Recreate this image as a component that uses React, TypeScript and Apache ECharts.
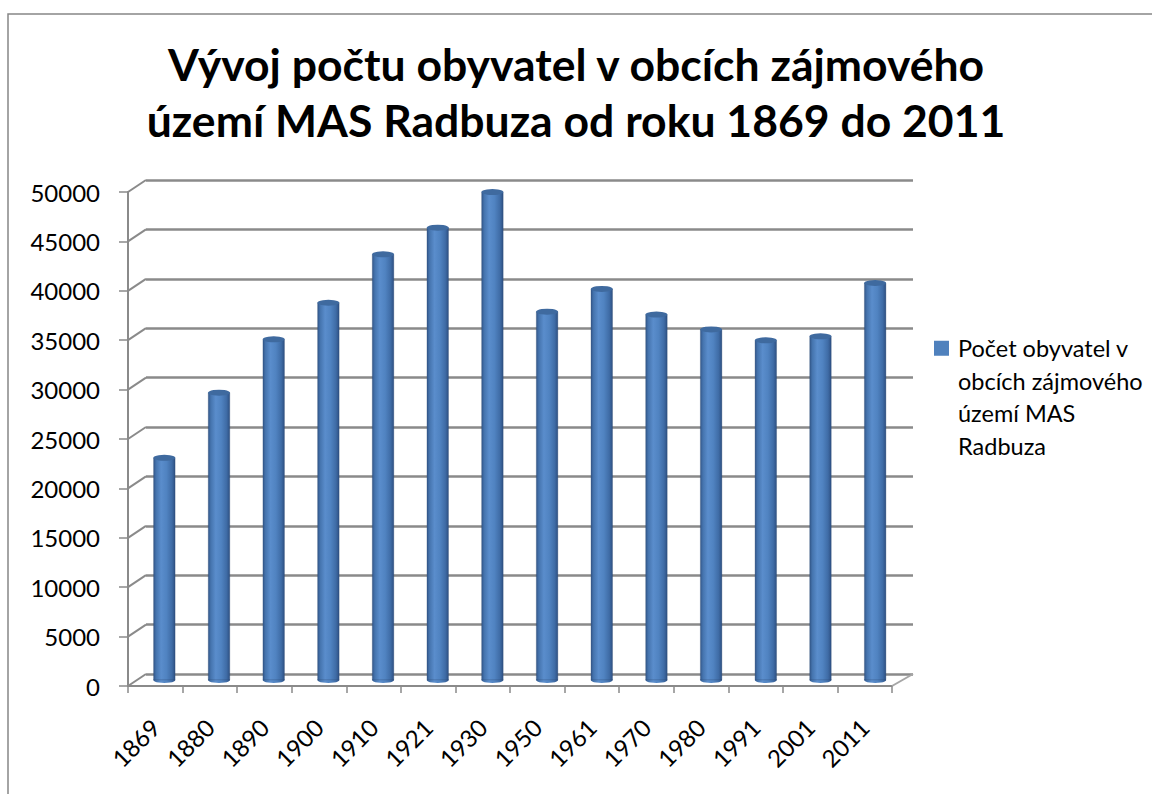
import React, { useEffect, useRef } from 'react';
import * as echarts from 'echarts';

const TITLE_LINES = ['Vývoj počtu obyvatel v obcích zájmového', 'území MAS Radbuza od roku 1869 do 2011'];
const SERIES_NAME = 'Počet obyvatel v obcích zájmového území MAS Radbuza';
const LEGEND_LINES = ['Počet obyvatel v', 'obcích zájmového', 'území MAS', 'Radbuza'];
const years = ['1869', '1880', '1890', '1900', '1910', '1921', '1930', '1950', '1961', '1970', '1980', '1991', '2001', '2011'];
const population = [22500, 29100, 34500, 38200, 43100, 45800, 49400, 37300, 39600, 37000, 35500, 34400, 34800, 40200];
const Y_MIN = 0;
const Y_MAX = 50000;
const Y_STEP = 5000;

const FONT = 'Lato';
const FRONT = { left: 128, top: 192, width: 764, height: 494 };
const BACK = { left: 146, top: 180, width: 767, height: 494 };
const MID = { left: 137, top: 186, width: 765.5, height: 494 };
const GRID_COLOR = '#8a8a8a';
const LEGEND_LINE_H = 32.5;
const LEGEND_BLOCK_H = LEGEND_LINE_H * LEGEND_LINES.length;
// legend icon: a 15px square aligned with the first text line, plus two invisible points to stretch its box
const LEGEND_ICON =
  'path://M0,0h0.01v0.01h-0.01z' +
  `M0,${LEGEND_LINE_H / 2 - 7.5}h15v15h-15z` +
  `M19,${LEGEND_BLOCK_H}h0.01v0.01h-0.01z`;

export default function App() {
  const ref = useRef<HTMLDivElement>(null);
  useEffect(() => {
    if (!ref.current) return;
    const chart = echarts.init(ref.current, undefined, { renderer: 'svg' });
    const barGradient = new echarts.graphic.LinearGradient(0, 0, 1, 0, [
      { offset: 0, color: '#33578a' },
      { offset: 0.12, color: '#4574ae' },
      { offset: 0.35, color: '#5a8dcc' },
      { offset: 0.6, color: '#5083c1' },
      { offset: 0.85, color: '#3f6ca6' },
      { offset: 1, color: '#2e5082' },
    ]);
    const valueAxisBase = { type: 'value', min: Y_MIN, max: Y_MAX, interval: Y_STEP };
    const option: any = {
      animation: false,
      backgroundColor: '#ffffff',
      title: {
        text: TITLE_LINES.join('\n'),
        left: 'center',
        top: 30,
        textStyle: { fontFamily: FONT, fontWeight: 'bold', fontSize: 44.5, lineHeight: 56, color: '#000' },
      },
      legend: {
        data: [{ name: SERIES_NAME, icon: LEGEND_ICON, itemStyle: { color: '#4F81BD', borderWidth: 0 } }],
        left: 934,
        top: 332,
        padding: 0,
        orient: 'vertical',
        itemWidth: 19,
        itemHeight: LEGEND_BLOCK_H,
        formatter: () => LEGEND_LINES.join('\n'),
        textStyle: { fontFamily: FONT, fontSize: 23.5, lineHeight: LEGEND_LINE_H, color: '#000' },
      },
      grid: [
        { ...FRONT, containLabel: false },
        { ...BACK, containLabel: false },
        { ...MID, containLabel: false },
      ],
      xAxis: [
        {
          type: 'category', gridIndex: 0, data: years, boundaryGap: true,
          axisLine: { show: true, lineStyle: { color: GRID_COLOR, width: 2 } },
          axisTick: { show: true, length: 7, lineStyle: { color: GRID_COLOR, width: 1.5 } },
          axisLabel: { rotate: 45, margin: 37, fontFamily: FONT, fontSize: 24, color: '#000', interval: 0 },
        },
        { type: 'category', gridIndex: 1, data: years, show: false },
        { type: 'category', gridIndex: 2, data: years, show: false },
      ],
      yAxis: [
        {
          ...valueAxisBase, gridIndex: 0,
          axisLine: { show: true, lineStyle: { color: GRID_COLOR, width: 2 } },
          axisTick: { show: true, length: 9, lineStyle: { color: GRID_COLOR, width: 1.5 } },
          axisLabel: { margin: 28, fontFamily: FONT, fontSize: 24, color: '#000', formatter: (v: number) => String(v) },
          splitLine: { show: false },
        },
        {
          ...valueAxisBase, gridIndex: 1,
          axisLine: { show: false }, axisTick: { show: false }, axisLabel: { show: false },
          splitLine: { show: true, lineStyle: { color: GRID_COLOR, width: 2.5 } },
        },
        { ...valueAxisBase, gridIndex: 2, show: false, splitLine: { show: false } },
      ],
      series: [
        {
          name: SERIES_NAME, type: 'bar', xAxisIndex: 2, yAxisIndex: 2, data: population,
          barWidth: 22, itemStyle: { color: barGradient, borderColor: 'rgba(40,70,110,0.6)', borderWidth: 0.5 }, z: 3,
        },
        {
          name: 'top', type: 'pictorialBar', xAxisIndex: 2, yAxisIndex: 2, data: population,
          symbol: 'circle', symbolSize: [22, 6], symbolPosition: 'end', symbolOffset: [0, '-50%'],
          itemStyle: { color: '#3f6a9f', borderColor: '#6f93c4', borderWidth: 0.6 }, z: 4, silent: true,
        },
        {
          name: 'bottom', type: 'pictorialBar', xAxisIndex: 2, yAxisIndex: 2, data: population,
          symbol: 'circle', symbolSize: [22, 6], symbolPosition: 'start', symbolOffset: [0, '50%'],
          itemStyle: { color: barGradient }, z: 2, silent: true,
        },
      ],
    };
    chart.setOption(option);

    const ticks: number[] = [];
    for (let v = Y_MIN; v <= Y_MAX; v += Y_STEP) ticks.push(v);
    const lines: any[] = ticks.map((v) => {
      const fy = chart.convertToPixel({ yAxisIndex: 0 } as any, v) as number;
      const by = chart.convertToPixel({ yAxisIndex: 1 } as any, v) as number;
      return {
        type: 'line', silent: true, z: 1,
        shape: { x1: FRONT.left, y1: fy, x2: BACK.left, y2: by },
        style: { stroke: GRID_COLOR, lineWidth: 2 },
      };
    });
    const fy0 = chart.convertToPixel({ yAxisIndex: 0 } as any, Y_MIN) as number;
    const by0 = chart.convertToPixel({ yAxisIndex: 1 } as any, Y_MIN) as number;
    lines.push({
      type: 'line', silent: true, z: 1,
      shape: { x1: FRONT.left + FRONT.width, y1: fy0, x2: BACK.left + BACK.width, y2: by0 },
      style: { stroke: '#a6a6a6', lineWidth: 2 },
    });
    lines.push({
      type: 'rect', silent: true, z: 0,
      shape: { x: 8, y: 14, width: 1300, height: 900 },
      style: { fill: 'none', stroke: '#868686', lineWidth: 1.5 },
    });
    chart.setOption({ graphic: lines });

    return () => chart.dispose();
  }, []);
  return <div ref={ref} style={{ position: 'absolute', left: 0, top: 0, width: 1152, height: 794 }} />;
}
